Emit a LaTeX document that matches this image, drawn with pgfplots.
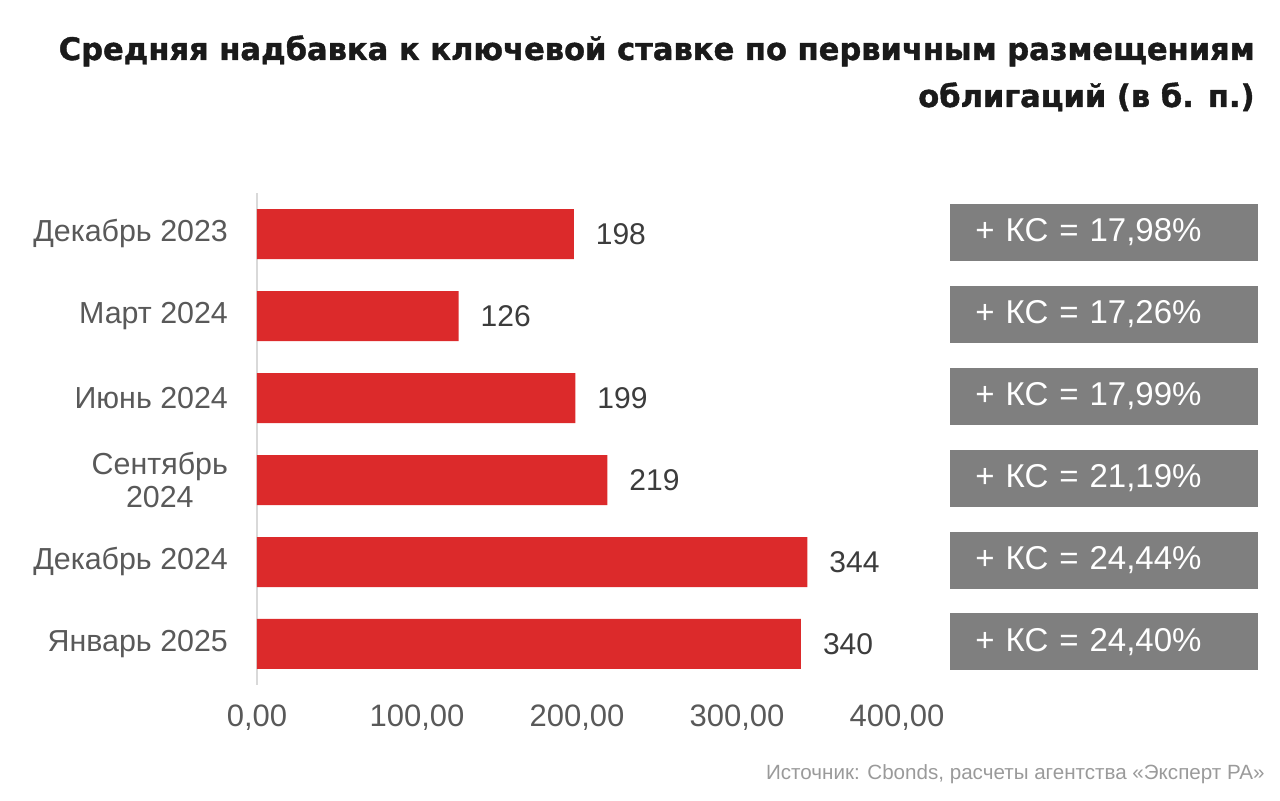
\documentclass[border=0pt]{standalone}
\usepackage{fontspec}
\setmainfont{Liberation Sans}
\newfontfamily\titlefont{DejaVu Sans}[FakeStretch=0.985, BoldFeatures={FakeBold=1.3}]
\usepackage{pgfplots}
\pgfplotsset{compat=1.18}
\usepackage{pgfplotstable}

\definecolor{barred}{HTML}{DC2A2B}
\definecolor{boxgray}{HTML}{7F7F7F}
\definecolor{labgray}{HTML}{595959}
\definecolor{valgray}{HTML}{3C3C3C}
\definecolor{srcgray}{HTML}{9A9A9A}
\definecolor{titleblack}{HTML}{1A1A1A}

% надбавка (б. п.) и ключевая ставка (%)
\pgfplotstableread{
idx val ks
0 198 17,98
1 126 17,26
2 199 17,99
3 219 21,19
4 344 24,44
5 340 24,40
}\spread

\begin{document}
\begin{tikzpicture}
  \useasboundingbox (-128.5pt,-58pt) rectangle (511.5pt,342.5pt);
  \begin{axis}[
      at={(0pt,0pt)}, anchor=south west,
      scale only axis, width=320pt, height=246pt,
      xmin=0, xmax=400, ymin=-0.5, ymax=5.5, y dir=reverse,
      clip=false,
      axis lines*=left,
      x axis line style={draw=none},
      y axis line style={draw=black!15, line width=0.6pt, -},
      tick style={draw=none},
      /pgf/number format/assume math mode=true,
      xtick={0,100,200,300,400},
      ytick={0,...,5},
      yticklabels={Декабрь 2023, Март 2024, Июнь 2024, {Сентябрь\\2024}, Декабрь 2024, Январь 2025},
      yticklabel style={align=center, font=\fontsize{15.2}{16.5}\selectfont, text=labgray},
      yticklabel shift=11pt,
      xticklabel style={font=\fontsize{15.5}{18}\selectfont, text=labgray,
        /pgf/number format/.cd, fixed, fixed zerofill, precision=2, use comma},
      xticklabel shift=6.5pt,
    ]
    \addplot[xbar, bar width=25pt, fill=barred, draw=none, point meta=x,
      nodes near coords,
      nodes near coords style={anchor=west, xshift=7.5pt,
        font=\fontsize{15}{17}\selectfont, text=valgray}]
      table[x=val, y=idx] {\spread};
    \addplot[draw=none, mark=none, point meta=explicit symbolic,
      nodes near coords={+ КС = \pgfplotspointmeta\%},
      nodes near coords style={anchor=west, fill=boxgray, text=white,
        inner xsep=12.5pt, inner ysep=0pt, minimum height=28.5pt, yshift=1pt,
        text width=129pt, align=left, font=\fontsize{16.5}{18}\selectfont}]
      table[x expr=433.1, y=idx, meta=ks] {\spread};
  \end{axis}
  \node[anchor=base east, inner sep=0pt, text=titleblack,
    font=\titlefont\bfseries\fontsize{15.5}{19}\selectfont] at (499pt,312.5pt)
    {Средняя надбавка к ключевой ставке по первичным размещениям};
  \node[anchor=base east, inner sep=0pt, text=titleblack,
    font=\titlefont\bfseries\fontsize{15.5}{19}\selectfont] at (499pt,289pt)
    {облигаций (в б. п.)};
  \node[anchor=base east, inner sep=0pt, text=srcgray,
    font=\fontsize{10.3}{12}\selectfont] at (504pt,-47.5pt)
    {Источник: Cbonds, расчеты агентства «Эксперт РА»};
\end{tikzpicture}
\end{document}
